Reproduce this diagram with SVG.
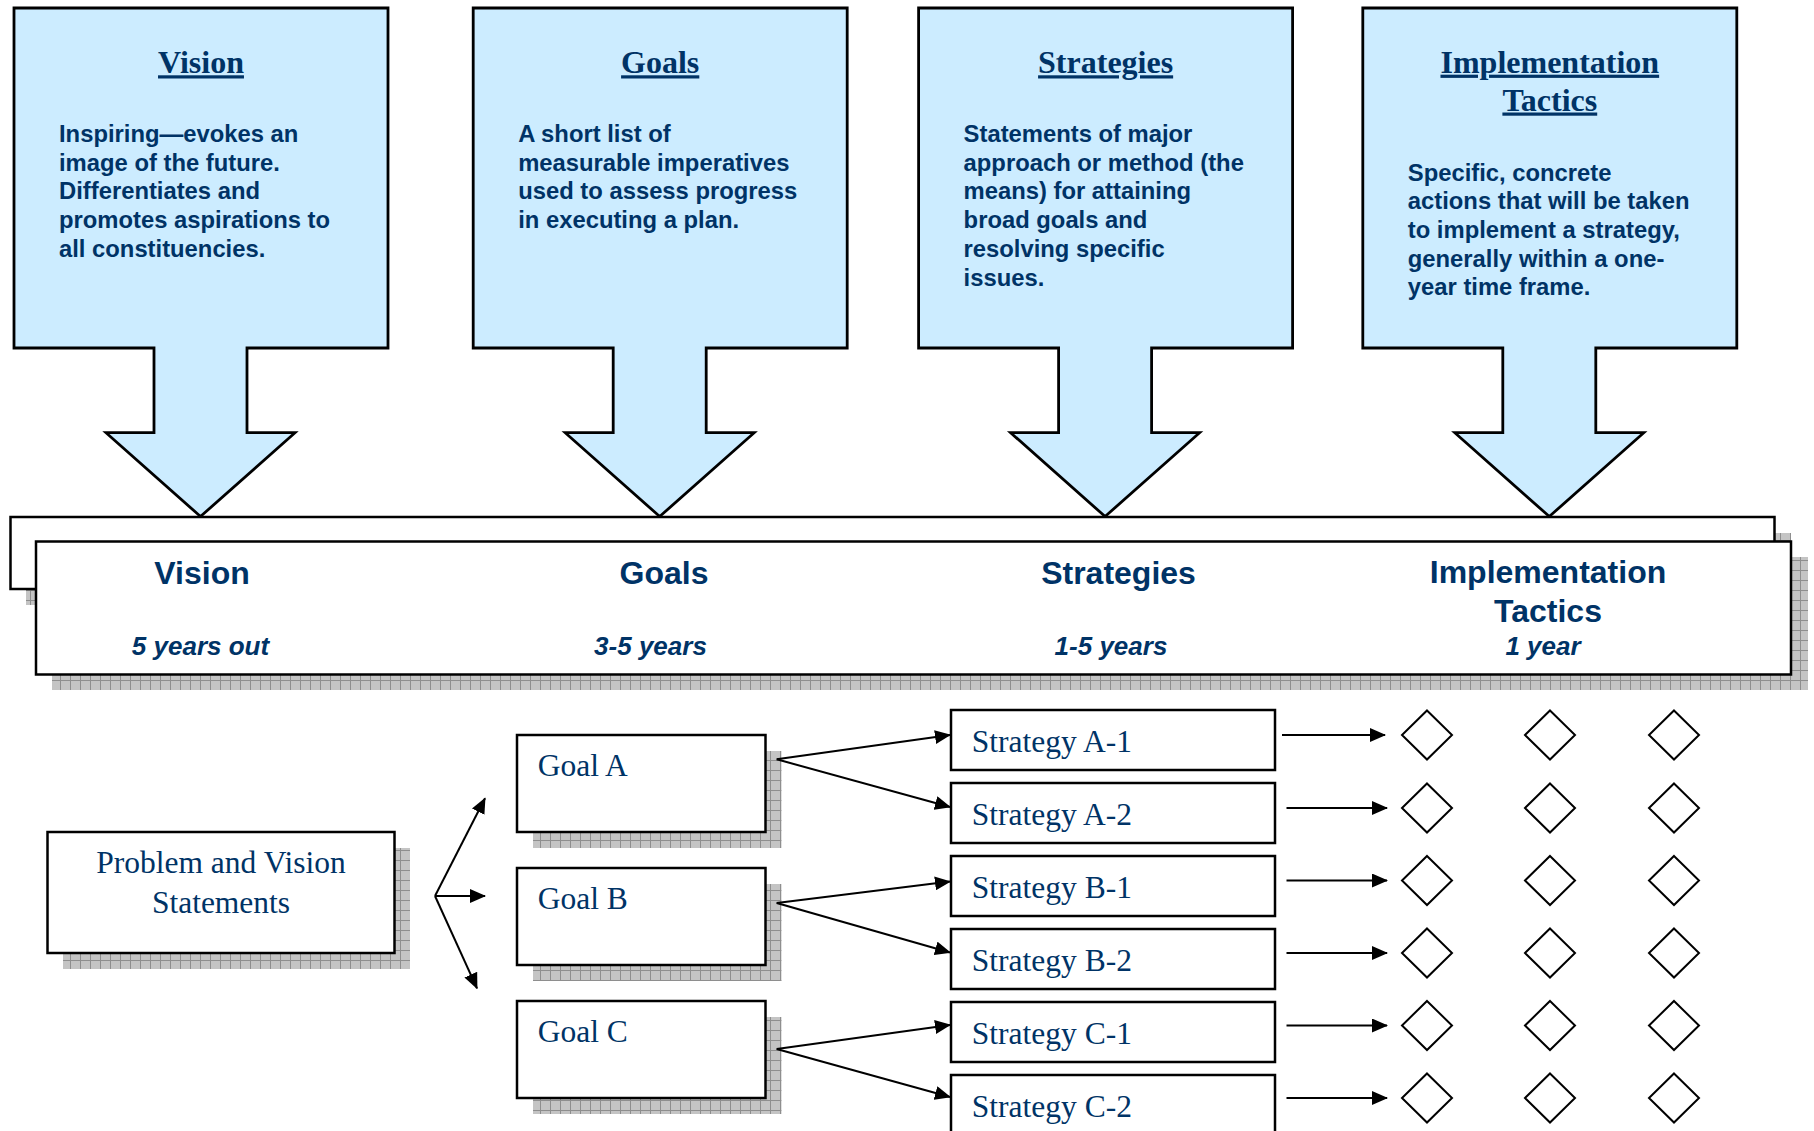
<svg xmlns="http://www.w3.org/2000/svg" xmlns:xlink="http://www.w3.org/1999/xlink" width="1814" height="1131" viewBox="0 0 1814 1131">
<style>
.card{fill:#CCECFF;stroke:#000;stroke-width:2.8;stroke-linejoin:miter}
.box{fill:#fff;stroke:#000;stroke-width:2.5}
.shadow{fill:url(#shade);stroke:none}
.ttl{font-family:"Liberation Serif","Times New Roman",serif;font-weight:bold;font-size:32px;fill:#003366;text-anchor:middle;text-decoration:underline}
.body{font-family:"Liberation Sans",Arial,sans-serif;font-weight:bold;font-size:23.8px;fill:#003366}
.bh{font-family:"Liberation Sans",Arial,sans-serif;font-weight:bold;font-size:32px;fill:#003366;text-anchor:middle}
.bs{font-family:"Liberation Sans",Arial,sans-serif;font-weight:bold;font-style:italic;font-size:26px;fill:#003366;text-anchor:middle}
.ser{font-family:"Liberation Serif","Times New Roman",serif;font-size:31.5px;fill:#003366}
.ln{stroke:#000;stroke-width:2;fill:none;marker-end:url(#ah)}
.dia{fill:#fff;stroke:#000;stroke-width:2}
</style>
<defs>
<pattern id="shade" width="10" height="10" patternUnits="userSpaceOnUse">
<rect width="10" height="10" fill="#c4c4c4"/>
<path d="M0 0.5H10M0.5 0V10" stroke="#8e8e8e" stroke-width="1"/>
</pattern>
<marker id="ah" markerUnits="userSpaceOnUse" markerWidth="16" markerHeight="14" refX="15" refY="7" orient="auto">
<path d="M0 0L16 7L0 14Z" fill="#000"/>
</marker>
<path id="callout" d="M0 8H374V348H233V432.7H281L186.5 516.5L92 432.7H140V348H0Z"/>
<path id="diamond" d="M0 -24.5L25 0L0 24.5L-25 0Z"/>
</defs>

<g id="vision-card" transform="translate(14,0)">
<use href="#callout" class="card"/>
<text class="ttl" x="187" y="73.3">Vision</text>
<text class="body" x="45" y="141.7">Inspiring—evokes an</text>
<text class="body" x="45" y="170.5">image of the future.</text>
<text class="body" x="45" y="199.3">Differentiates and</text>
<text class="body" x="45" y="228.1">promotes aspirations to</text>
<text class="body" x="45" y="256.9">all constituencies.</text>
</g>

<g id="goals-card" transform="translate(473.2,0)">
<use href="#callout" class="card"/>
<text class="ttl" x="187" y="73.3">Goals</text>
<text class="body" x="45" y="141.7">A short list of</text>
<text class="body" x="45" y="170.5">measurable imperatives</text>
<text class="body" x="45" y="199.3">used to assess progress</text>
<text class="body" x="45" y="228.1">in executing a plan.</text>
</g>

<g id="strategies-card" transform="translate(918.6,0)">
<use href="#callout" class="card"/>
<text class="ttl" x="187" y="73.3">Strategies</text>
<text class="body" x="45" y="141.7">Statements of major</text>
<text class="body" x="45" y="170.5">approach or method (the</text>
<text class="body" x="45" y="199.3">means) for attaining</text>
<text class="body" x="45" y="228.1">broad goals and</text>
<text class="body" x="45" y="256.9">resolving specific</text>
<text class="body" x="45" y="285.7">issues.</text>
</g>

<g id="tactics-card" transform="translate(1362.8,0)">
<use href="#callout" class="card"/>
<text class="ttl" x="187" y="72.7">Implementation</text>
<text class="ttl" x="187" y="110.5">Tactics</text>
<text class="body" x="45" y="180.7">Specific, concrete</text>
<text class="body" x="45" y="209.3">actions that will be taken</text>
<text class="body" x="45" y="237.9">to implement a strategy,</text>
<text class="body" x="45" y="266.5">generally within a one-</text>
<text class="body" x="45" y="295.1">year time frame.</text>
</g>

<g id="timeline-band">
<rect class="shadow" x="26" y="533" width="1765" height="72"/>
<rect class="box" x="10.5" y="517" width="1764" height="72"/>
<rect class="shadow" x="52" y="557" width="1756" height="133"/>
<rect class="box" x="36" y="541.5" width="1755" height="133"/>
<text class="bh" x="202" y="583.5">Vision</text>
<text class="bs" x="200.5" y="654.5">5 years out</text>
<text class="bh" x="664" y="583.5">Goals</text>
<text class="bs" x="650.5" y="654.5">3-5 years</text>
<text class="bh" x="1118.5" y="583.5">Strategies</text>
<text class="bs" x="1111" y="654.5">1-5 years</text>
<text class="bh" x="1548" y="583">Implementation</text>
<text class="bh" x="1548" y="621.5">Tactics</text>
<text class="bs" x="1543" y="654.5">1 year</text>
</g>

<g id="problem-vision">
<rect class="shadow" x="63" y="848" width="347" height="121"/>
<rect class="box" x="47.5" y="832" width="347" height="121"/>
<text class="ser" x="221" y="873" text-anchor="middle">Problem and Vision</text>
<text class="ser" x="221" y="912.5" text-anchor="middle">Statements</text>
</g>

<g id="goal-a">
<rect class="shadow" x="533" y="751" width="248.5" height="97"/>
<rect class="box" x="517" y="735" width="248.5" height="97"/>
<text class="ser" x="537.7" y="776">Goal A</text>
</g>
<g id="goal-b">
<rect class="shadow" x="533" y="884" width="248.5" height="97"/>
<rect class="box" x="517" y="868" width="248.5" height="97"/>
<text class="ser" x="537.7" y="909">Goal B</text>
</g>
<g id="goal-c">
<rect class="shadow" x="533" y="1017" width="248.5" height="97"/>
<rect class="box" x="517" y="1001" width="248.5" height="97"/>
<text class="ser" x="537.7" y="1042">Goal C</text>
</g>

<g id="strategy-a1"><rect class="box" x="951" y="710" width="324" height="60"/><text class="ser" x="971.8" y="752">Strategy A-1</text></g>
<g id="strategy-a2"><rect class="box" x="951" y="783" width="324" height="60"/><text class="ser" x="971.8" y="825">Strategy A-2</text></g>
<g id="strategy-b1"><rect class="box" x="951" y="856" width="324" height="60"/><text class="ser" x="971.8" y="898">Strategy B-1</text></g>
<g id="strategy-b2"><rect class="box" x="951" y="929" width="324" height="60"/><text class="ser" x="971.8" y="971">Strategy B-2</text></g>
<g id="strategy-c1"><rect class="box" x="951" y="1002" width="324" height="60"/><text class="ser" x="971.8" y="1044">Strategy C-1</text></g>
<g id="strategy-c2"><rect class="box" x="951" y="1075" width="324" height="60"/><text class="ser" x="971.8" y="1117">Strategy C-2</text></g>

<g id="tactic-a1-1"><use href="#diamond" class="dia" x="1427" y="735"/></g>
<g id="tactic-a1-2"><use href="#diamond" class="dia" x="1550" y="735"/></g>
<g id="tactic-a1-3"><use href="#diamond" class="dia" x="1674" y="735"/></g>
<g id="tactic-a2-1"><use href="#diamond" class="dia" x="1427" y="808"/></g>
<g id="tactic-a2-2"><use href="#diamond" class="dia" x="1550" y="808"/></g>
<g id="tactic-a2-3"><use href="#diamond" class="dia" x="1674" y="808"/></g>
<g id="tactic-b1-1"><use href="#diamond" class="dia" x="1427" y="880.5"/></g>
<g id="tactic-b1-2"><use href="#diamond" class="dia" x="1550" y="880.5"/></g>
<g id="tactic-b1-3"><use href="#diamond" class="dia" x="1674" y="880.5"/></g>
<g id="tactic-b2-1"><use href="#diamond" class="dia" x="1427" y="953"/></g>
<g id="tactic-b2-2"><use href="#diamond" class="dia" x="1550" y="953"/></g>
<g id="tactic-b2-3"><use href="#diamond" class="dia" x="1674" y="953"/></g>
<g id="tactic-c1-1"><use href="#diamond" class="dia" x="1427" y="1025.5"/></g>
<g id="tactic-c1-2"><use href="#diamond" class="dia" x="1550" y="1025.5"/></g>
<g id="tactic-c1-3"><use href="#diamond" class="dia" x="1674" y="1025.5"/></g>
<g id="tactic-c2-1"><use href="#diamond" class="dia" x="1427" y="1098"/></g>
<g id="tactic-c2-2"><use href="#diamond" class="dia" x="1550" y="1098"/></g>
<g id="tactic-c2-3"><use href="#diamond" class="dia" x="1674" y="1098"/></g>

<g id="connectors">
<path class="ln" d="M435 896L485 798.3"/>
<path class="ln" d="M435 896L485 896"/>
<path class="ln" d="M435 896L477 988.3"/>
<path class="ln" d="M776.7 759.3L950 735"/>
<path class="ln" d="M776.7 759.3L950 807"/>
<path class="ln" d="M776.7 903L950 881.5"/>
<path class="ln" d="M776.7 903L950 952.5"/>
<path class="ln" d="M776.7 1049L950 1025"/>
<path class="ln" d="M776.7 1049L950 1097"/>
<path class="ln" d="M1282 735L1385 735"/>
<path class="ln" d="M1286.5 808L1387 808"/>
<path class="ln" d="M1286.5 880.5L1387 880.5"/>
<path class="ln" d="M1286.5 953L1387 953"/>
<path class="ln" d="M1286.5 1025.5L1387 1025.5"/>
<path class="ln" d="M1286.5 1098L1387 1098"/>
</g>
</svg>
